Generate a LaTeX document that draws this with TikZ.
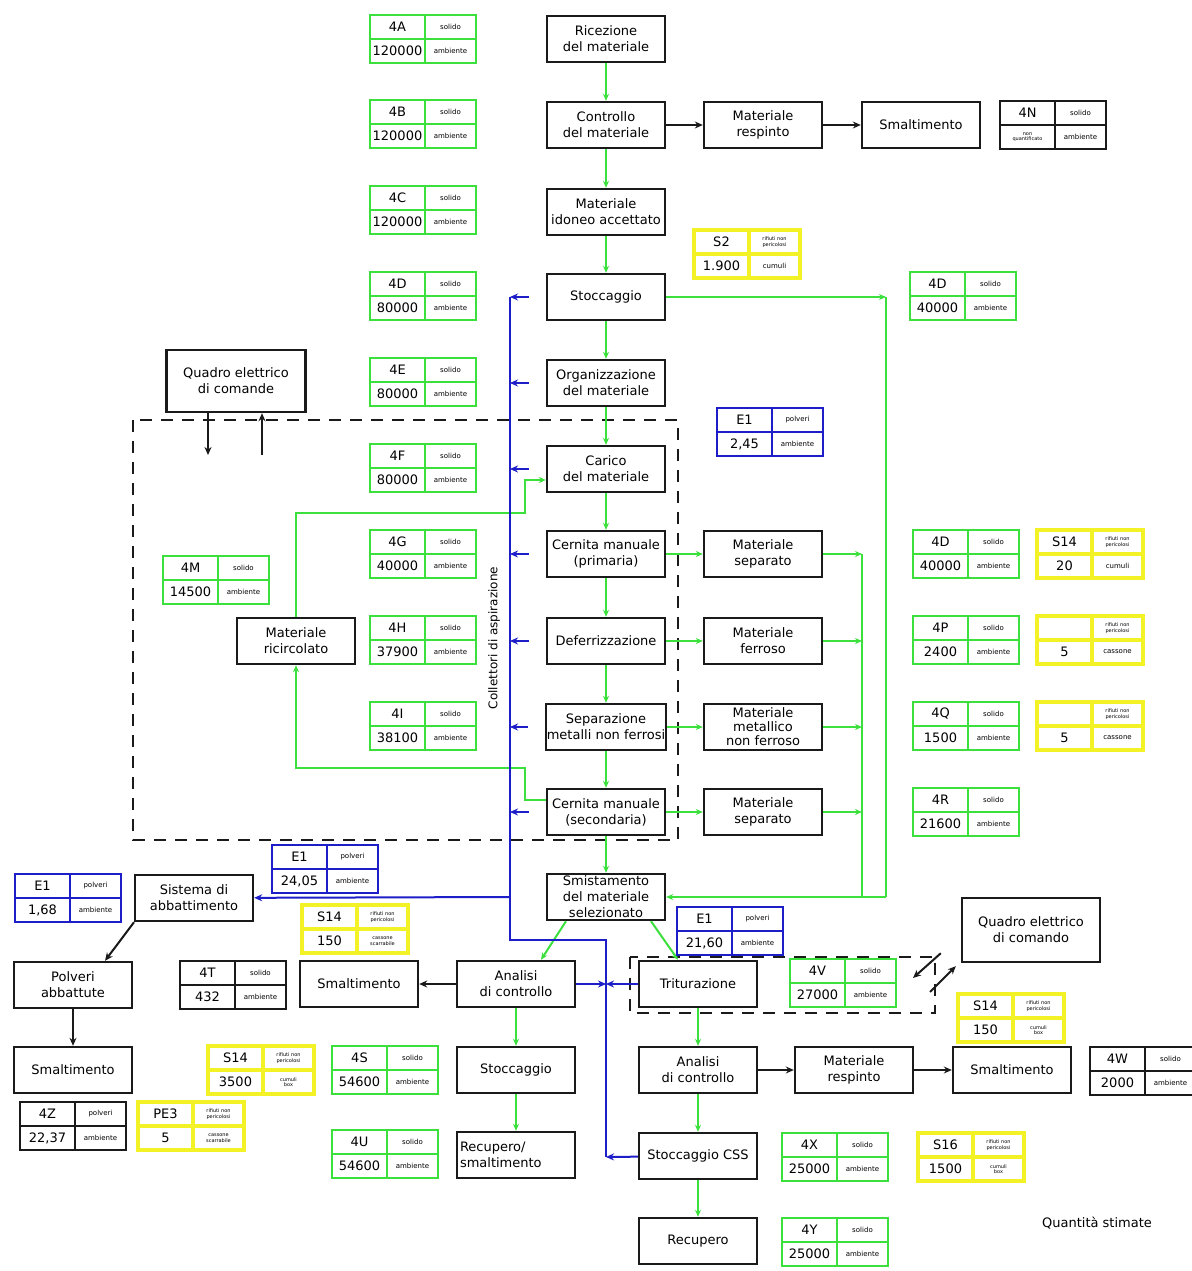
\documentclass[tikz,border=0pt]{standalone}
\usepackage{fontspec}
\setmainfont{DejaVu Sans}
\usetikzlibrary{arrows.meta}
\definecolor{verde}{HTML}{3CE03C}
\definecolor{blu}{HTML}{1E1EC8}
\definecolor{giallo}{HTML}{F2F226}
\definecolor{nero}{HTML}{1A1A1A}

\tikzset{
  fase/.style={draw=nero,line width=2.4pt,fill=white,minimum width=118pt,
    minimum height=46pt,inner sep=1pt,align=center,font=\fontsize{13}{16}\selectfont},
  gfreccia/.style={verde,line width=2pt,-{Stealth[length=7pt,width=6pt]}},
  bfreccia/.style={blu,line width=2pt,-{Stealth[length=8pt,width=7pt]}},
  nfreccia/.style={nero,line width=2pt,-{Stealth[length=8pt,width=7pt]}},
  grosso/.style={font=\fontsize{13}{14}\selectfont,align=center,inner sep=1pt},
  piccolo/.style={font=\fontsize{7}{7.5}\selectfont,align=center,inner sep=1pt},
  minuto/.style={font=\fontsize{5}{5.5}\selectfont,align=center,inner sep=1pt},
}

% data card: name, top-left, colour, code, kind, amount, place, style kind, style place
\newcommand{\scheda}[9]{%
  \begin{scope}[shift={#2}]
    \fill[white] (0,0) rectangle (106,48);
    \draw[line width=2.2pt,#3] (0,0) rectangle (106,48) (0,24) -- (106,24) (55,0) -- (55,48);
    \node[grosso] (#1-cod) at (27.5,12) {#4};
    \node[#8] (#1-tip) at (80.5,12) {#5};
    \node[grosso] (#1-qta) at (27.5,36) {#6};
    \node[#9] (#1-dove) at (80.5,36) {#7};
  \end{scope}}

\begin{document}
\begin{tikzpicture}[x=1pt,y=-1pt]
  \fill[white] (0,0) rectangle (1191,1271);
  \useasboundingbox (0,0) rectangle (1191,1271);
  % dashed enclosures
  \draw[nero,line width=2.2pt,dash pattern=on 12pt off 9pt] (133,420) rectangle (678,840);
  \draw[nero,line width=2.2pt,dash pattern=on 12pt off 9pt] (630,957) rectangle (935,1013);

  % main line
  \node[fase] (ric) at (606,39) {Ricezione\\del materiale};
  \node[fase] (con) at (606,125) {Controllo\\del materiale};
  \node[fase] (ido) at (606,212) {Materiale\\idoneo accettato};
  \node[fase] (sto) at (606,297) {Stoccaggio};
  \node[fase] (org) at (606,383) {Organizzazione\\del materiale};
  \node[fase] (car) at (606,469) {Carico\\del materiale};
  \node[fase] (cpr) at (606,554) {Cernita manuale\\(primaria)};
  \node[fase] (def) at (606,641) {Deferrizzazione};
  \node[fase] (sep) at (606,727) {Separazione\\metalli non ferrosi};
  \node[fase] (csc) at (606,812) {Cernita manuale\\(secondaria)};
  \node[fase] (smi) at (606,897) {Smistamento\\del materiale\\selezionato};

  % side branches
  \node[fase] (resp) at (763,125) {Materiale\\respinto};
  \node[fase] (smal) at (921,125) {Smaltimento};
  \node[fase] (msep) at (763,554) {Materiale\\separato};
  \node[fase] (mfer) at (763,641) {Materiale\\ferroso};
  \node[fase,font=\fontsize{13}{14}\selectfont] (mmet) at (763,727) {Materiale\\metallico\\non ferroso};
  \node[fase] (msec) at (763,812) {Materiale\\separato};

  % left part
  \node[fase,minimum width=139pt,minimum height=62pt] (qua) at (236,381) {Quadro elettrico\\di comande};
  \node[fase] (ricirc) at (296,641) {Materiale\\ricircolato};
  \node[fase] (abb) at (194,898) {Sistema di\\abbattimento};
  \node[fase] (pol) at (73,985) {Polveri\\abbattute};
  \node[fase] (smalp) at (73,1070) {Smaltimento};

  % bottom part
  \node[fase] (smalb) at (359,984) {Smaltimento};
  \node[fase] (ana) at (516,984) {Analisi\\di controllo};
  \node[fase] (stob) at (516,1070) {Stoccaggio};
  \node[fase,text width=112pt,align=left] (recs) at (516,1155) {Recupero/\\smaltimento};
  \node[fase] (tri) at (698,984) {Triturazione};
  \node[fase] (anat) at (698,1070) {Analisi\\di controllo};
  \node[fase] (respt) at (854,1070) {Materiale\\respinto};
  \node[fase] (smalt) at (1012,1070) {Smaltimento};
  \node[fase] (css) at (698,1156) {Stoccaggio CSS};
  \node[fase] (rec) at (698,1241) {Recupero};
  \node[fase,minimum width=138pt,minimum height=64pt] (quat) at (1031,930) {Quadro elettrico\\di comando};

  % material flow
  \foreach \a/\b in {ric/con,con/ido,ido/sto,sto/org,org/car,car/cpr,cpr/def,def/sep,sep/csc,csc/smi,
      ana/stob,stob/recs,tri/anat,anat/css,css/rec,cpr/msep,def/mfer,sep/mmet,csc/msec}
    \draw[gfreccia] (\a) -- (\b);
  \foreach \a/\b in {con/resp,resp/smal,ana/smalb,anat/respt,respt/smalt,pol/smalp}
    \draw[nfreccia] (\a) -- (\b);
  \draw[nfreccia] ([xshift=-60pt]abb.south) -- ([xshift=32pt]pol.north);
  \draw[gfreccia] ([xshift=-40pt]smi.south) -- ([xshift=25pt]ana.north);
  \draw[gfreccia] ([xshift=45pt]smi.south) -- ([xshift=-20pt]tri.north);

  % return lines on the right
  \coordinate (vA) at (886,297);
  \coordinate (vB) at (886,897);
  \coordinate (cA) at (862,554);
  \coordinate (cB) at (862,897);
  \draw[gfreccia] (sto) -- (vA);
  \draw[verde,line width=2pt] (vA) -- (vB);
  \draw[gfreccia] (vB) -- (smi);
  \foreach \m in {msep,mfer,mmet,msec}
    \draw[gfreccia] (\m) -- (\m -| cA);
  \draw[verde,line width=2pt] (cA) -- (cB);

  % recirculation
  \coordinate (rA) at (525,513);
  \coordinate (rB) at (525,768);
  \draw[gfreccia] (ricirc.north) |- (rA) |- ([yshift=-11pt]car.west);
  \draw[gfreccia] ([yshift=12pt]csc.west) -| (rB) -| (ricirc.south);

  % suction collectors
  \coordinate (bA) at (510,297);
  \coordinate (bB) at (510,940);
  \coordinate (bC) at (606,940);
  \coordinate (bD) at (606,1157);
  \coordinate (bE) at (510,897);
  \coordinate (bF) at (606,984);
  \draw[blu,line width=2pt] (bA) -- (bB) -- (bC) -- (bD);
  \foreach \m in {sto,org,car,cpr,def,sep,csc}
    \draw[bfreccia] ([xshift=-17pt]\m.west) -- (\m -| bA);
  \draw[bfreccia] (bE) -- (abb);
  \draw[bfreccia] (css) -- (bD);
  \draw[bfreccia] (ana) -- (bF);
  \draw[bfreccia] (tri) -- (bF);
  \node[rotate=90,font=\fontsize{12}{14}\selectfont] (coll) at (494,638) {Collettori di aspirazione};

  % control panels
  \coordinate (qA) at (208,455);
  \coordinate (qB) at (262,455);
  \draw[nfreccia] (qua.south -| qA) -- (qA);
  \draw[nfreccia] (qB) -- (qua.south -| qB);
  \coordinate (tA) at (913,978);
  \coordinate (tB) at (930,992);
  \draw[nfreccia] ([shift={(-20pt,10pt)}]quat.south west) -- (tA);
  \draw[nfreccia] (tB) -- ([shift={(-5pt,-3pt)}]quat.south west);

  % data cards
  \scheda{t4A}{(370,15)}{verde}{4A}{solido}{120000}{ambiente}{piccolo}{piccolo}
  \scheda{t4B}{(370,100)}{verde}{4B}{solido}{120000}{ambiente}{piccolo}{piccolo}
  \scheda{t4C}{(370,186)}{verde}{4C}{solido}{120000}{ambiente}{piccolo}{piccolo}
  \scheda{t4Da}{(370,272)}{verde}{4D}{solido}{80000}{ambiente}{piccolo}{piccolo}
  \scheda{t4E}{(370,358)}{verde}{4E}{solido}{80000}{ambiente}{piccolo}{piccolo}
  \scheda{t4F}{(370,444)}{verde}{4F}{solido}{80000}{ambiente}{piccolo}{piccolo}
  \scheda{t4G}{(370,530)}{verde}{4G}{solido}{40000}{ambiente}{piccolo}{piccolo}
  \scheda{t4H}{(370,616)}{verde}{4H}{solido}{37900}{ambiente}{piccolo}{piccolo}
  \scheda{t4I}{(370,702)}{verde}{4I}{solido}{38100}{ambiente}{piccolo}{piccolo}
  \scheda{t4M}{(163,556)}{verde}{4M}{solido}{14500}{ambiente}{piccolo}{piccolo}
  \scheda{t4Db}{(910,272)}{verde}{4D}{solido}{40000}{ambiente}{piccolo}{piccolo}
  \scheda{t4Dc}{(913,530)}{verde}{4D}{solido}{40000}{ambiente}{piccolo}{piccolo}
  \scheda{t4P}{(913,616)}{verde}{4P}{solido}{2400}{ambiente}{piccolo}{piccolo}
  \scheda{t4Q}{(913,702)}{verde}{4Q}{solido}{1500}{ambiente}{piccolo}{piccolo}
  \scheda{t4R}{(913,788)}{verde}{4R}{solido}{21600}{ambiente}{piccolo}{piccolo}
  \scheda{t4V}{(790,959)}{verde}{4V}{solido}{27000}{ambiente}{piccolo}{piccolo}
  \scheda{t4S}{(332,1046)}{verde}{4S}{solido}{54600}{ambiente}{piccolo}{piccolo}
  \scheda{t4U}{(332,1130)}{verde}{4U}{solido}{54600}{ambiente}{piccolo}{piccolo}
  \scheda{t4X}{(782,1133)}{verde}{4X}{solido}{25000}{ambiente}{piccolo}{piccolo}
  \scheda{t4Y}{(782,1218)}{verde}{4Y}{solido}{25000}{ambiente}{piccolo}{piccolo}

  \scheda{t4N}{(1000,101)}{nero}{4N}{solido}{}{ambiente}{piccolo}{piccolo}
  \node[minuto] (t4N-nq) at (1027.5,137) {non\\quantificato};
  \scheda{t4T}{(180,961)}{nero}{4T}{solido}{432}{ambiente}{piccolo}{piccolo}
  \scheda{t4W}{(1090,1047)}{nero}{4W}{solido}{2000}{ambiente}{piccolo}{piccolo}
  \scheda{t4Z}{(20,1102)}{nero}{4Z}{polveri}{22,37}{ambiente}{piccolo}{piccolo}

  \scheda{tE1a}{(717,408)}{blu}{E1}{polveri}{2,45}{ambiente}{piccolo}{piccolo}
  \scheda{tE1b}{(272,845)}{blu}{E1}{polveri}{24,05}{ambiente}{piccolo}{piccolo}
  \scheda{tE1c}{(15,874)}{blu}{E1}{polveri}{1,68}{ambiente}{piccolo}{piccolo}
  \scheda{tE1d}{(677,907)}{blu}{E1}{polveri}{21,60}{ambiente}{piccolo}{piccolo}

  \scheda{tS2}{(694,230)}{giallo,line width=3.5pt}{S2}{rifiuti non\\pericolosi}{1.900}{cumuli}{minuto}{piccolo}
  \scheda{tS14a}{(1037,530)}{giallo,line width=3.5pt}{S14}{rifiuti non\\pericolosi}{20}{cumuli}{minuto}{piccolo}
  \scheda{tXa}{(1037,616)}{giallo,line width=3.5pt}{}{rifiuti non\\pericolosi}{5}{cassone}{minuto}{piccolo}
  \scheda{tXb}{(1037,702)}{giallo,line width=3.5pt}{}{rifiuti non\\pericolosi}{5}{cassone}{minuto}{piccolo}
  \scheda{tS14b}{(302,905)}{giallo,line width=3.5pt}{S14}{rifiuti non\\pericolosi}{150}{cassone\\scarrabile}{minuto}{minuto}
  \scheda{tS14c}{(958,994)}{giallo,line width=3.5pt}{S14}{rifiuti non\\pericolosi}{150}{cumuli\\box}{minuto}{minuto}
  \scheda{tS14d}{(208,1046)}{giallo,line width=3.5pt}{S14}{rifiuti non\\pericolosi}{3500}{cumuli\\box}{minuto}{minuto}
  \scheda{tPE3}{(138,1102)}{giallo,line width=3.5pt}{PE3}{rifiuti non\\pericolosi}{5}{cassone\\scarrabile}{minuto}{minuto}
  \scheda{tS16}{(918,1133)}{giallo,line width=3.5pt}{S16}{rifiuti non\\pericolosi}{1500}{cumuli\\box}{minuto}{minuto}

  \node[font=\fontsize{13}{15}\selectfont] (nota) at (1097,1223) {Quantità stimate};
\end{tikzpicture}
\end{document}
